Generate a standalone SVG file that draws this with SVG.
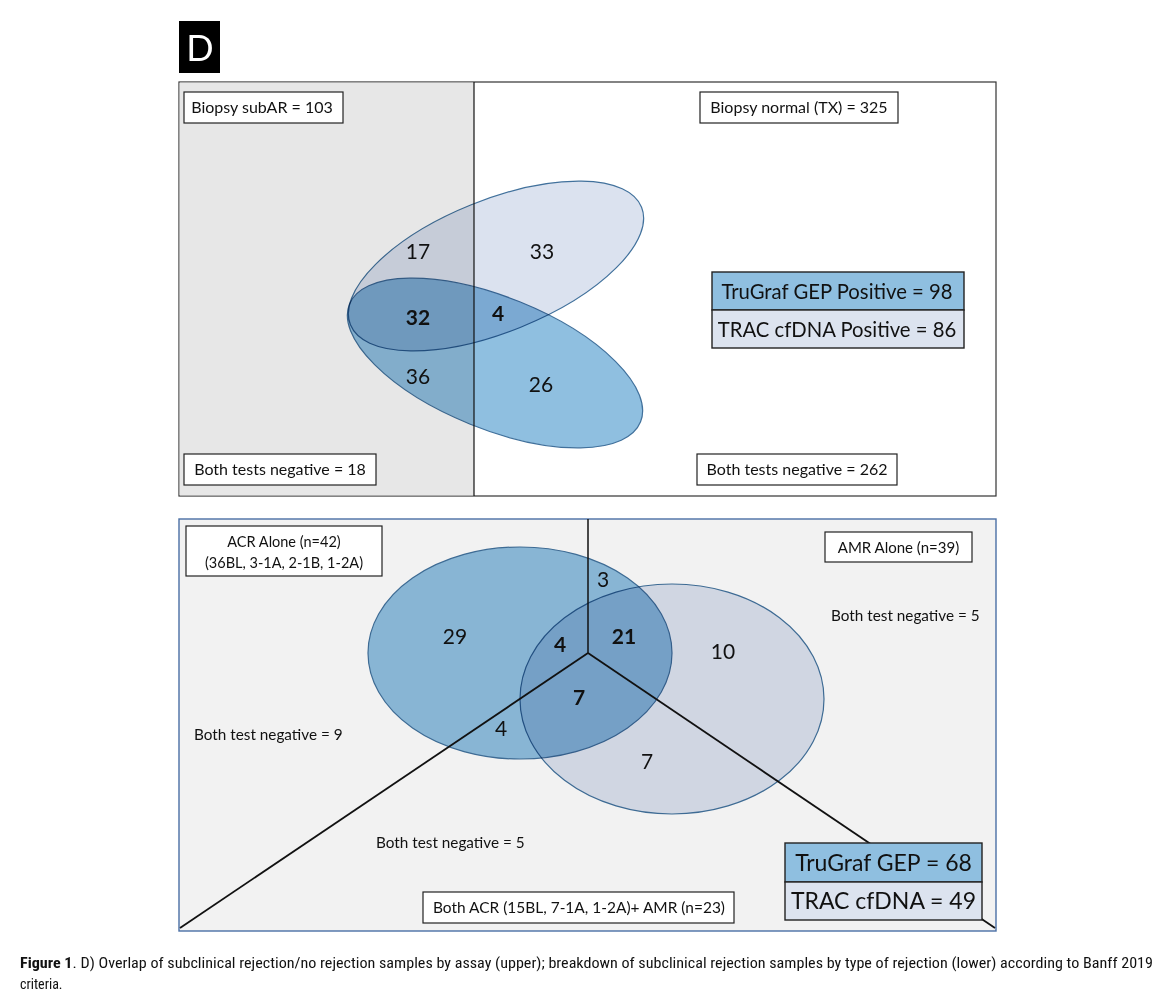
<svg xmlns="http://www.w3.org/2000/svg" width="1162" height="1003" viewBox="0 0 1162 1003">
<style>
.lbl{font-family:Lato,"Open Sans","Liberation Sans",sans-serif;fill:#111}
.box{fill:#fff;stroke:#222;stroke-width:1.2}
.num{font-family:Lato,"Open Sans","Liberation Sans",sans-serif;font-size:21px;fill:#111;text-anchor:middle}
.b{font-weight:bold}
.gep{fill:#8fbfe0;stroke:#41719c;stroke-width:1.2;mix-blend-mode:multiply}
.trac{fill:#dbe2ef;stroke:#41719c;stroke-width:1.2;mix-blend-mode:multiply}
.leg{stroke:#222;stroke-width:1.4}
.conn{stroke:#111;fill:none}
.cap{font-family:"Liberation Sans Narrow","Roboto Condensed","Liberation Sans",sans-serif;font-size:14px;fill:#111}
</style>
<rect x="0" y="0" width="1162" height="1003" fill="#fff"/>
<g id="panel-label">
<rect x="179" y="21" width="41" height="52" fill="#000"/>
<text x="200" y="61" font-family="Lato,'Open Sans',sans-serif" font-size="36" fill="#fff" text-anchor="middle">D</text>
</g>
<!-- Top panel -->
<g id="top-panel">
<rect x="179" y="82" width="817" height="414" fill="#fff" stroke="#333" stroke-width="1.2"/>
<rect x="179.6" y="82.6" width="294.4" height="412.8" fill="#e7e7e7"/>
</g>
<g id="top-venn">
<ellipse class="trac" cx="496" cy="266" rx="157" ry="66" transform="rotate(-22 496 266)"/>
<ellipse class="gep" cx="495" cy="363" rx="157" ry="66" transform="rotate(22 495 363)"/>
</g>
<g id="top-connectors">
<line class="conn" x1="474" y1="82" x2="474" y2="496" stroke-width="1.2"/>
</g>
<g id="top-numbers">
<text class="num" x="418" y="259">17</text>
<text class="num" x="542" y="259">33</text>
<text class="num b" x="418" y="325">32</text>
<text class="num b" x="498" y="321">4</text>
<text class="num" x="418" y="384">36</text>
<text class="num" x="541" y="392">26</text>
</g>
<g id="biopsy-subar">
<rect class="box" x="184" y="92" width="159" height="31"/>
<text class="lbl" x="262" y="113" font-size="16" text-anchor="middle">Biopsy subAR = 103</text>
</g>
<g id="biopsy-normal">
<rect class="box" x="700" y="92" width="198" height="31"/>
<text class="lbl" x="799" y="113" font-size="16" text-anchor="middle">Biopsy normal (TX) = 325</text>
</g>
<g id="neg-18">
<rect class="box" x="184" y="454" width="192" height="31"/>
<text class="lbl" x="280" y="475" font-size="16" text-anchor="middle">Both tests negative = 18</text>
</g>
<g id="neg-262">
<rect class="box" x="697" y="454" width="200" height="31"/>
<text class="lbl" x="797" y="475" font-size="16" text-anchor="middle">Both tests negative = 262</text>
</g>
<g id="top-legend">
<rect class="leg" x="712" y="272" width="252" height="38" fill="#8fbfe0"/>
<rect class="leg" x="712" y="310" width="252" height="38" fill="#dce3ef"/>
<text class="lbl" x="837" y="299" font-size="20.3" text-anchor="middle">TruGraf GEP Positive = 98</text>
<text class="lbl" x="837" y="337" font-size="20.3" text-anchor="middle">TRAC cfDNA Positive = 86</text>
</g>
<!-- Bottom panel -->
<g id="bottom-panel">
<rect x="179" y="519" width="817" height="412" fill="#f2f2f2" stroke="#4a6fa5" stroke-width="1.4"/>
</g>
<g id="bottom-venn">
<ellipse class="gep" cx="520" cy="653" rx="152" ry="106"/>
<ellipse class="trac" cx="672" cy="699" rx="152" ry="115"/>
</g>
<g id="bottom-connectors">
<line class="conn" x1="588" y1="519" x2="588" y2="653" stroke-width="1.5"/>
<line class="conn" x1="588" y1="653" x2="180" y2="928" stroke-width="1.8"/>
<line class="conn" x1="588" y1="653" x2="995" y2="928" stroke-width="1.8"/>
</g>
<g id="bottom-numbers">
<text class="num" x="603" y="587">3</text>
<text class="num" x="455" y="644">29</text>
<text class="num b" x="560" y="652">4</text>
<text class="num b" x="624" y="644">21</text>
<text class="num" x="723" y="659">10</text>
<text class="num b" x="579" y="705">7</text>
<text class="num" x="501" y="736">4</text>
<text class="num" x="647" y="769">7</text>
</g>
<g id="acr-alone">
<rect class="box" x="186" y="526" width="196" height="50"/>
<text class="lbl" x="284" y="547" font-size="14.5" text-anchor="middle">ACR Alone (n=42)</text>
<text class="lbl" x="284" y="568" font-size="14.5" text-anchor="middle">(36BL, 3-1A, 2-1B, 1-2A)</text>
</g>
<g id="amr-alone">
<rect class="box" x="825" y="532" width="147" height="30"/>
<text class="lbl" x="898.5" y="553" font-size="15" text-anchor="middle">AMR Alone (n=39)</text>
</g>
<g id="neg-5-right">
<text class="lbl" x="831" y="621" font-size="15.3">Both test negative = 5</text>
</g>
<g id="neg-9">
<text class="lbl" x="194" y="740" font-size="15.3">Both test negative = 9</text>
</g>
<g id="neg-5-bottom">
<text class="lbl" x="376" y="848" font-size="15.3">Both test negative = 5</text>
</g>
<g id="both-acr-amr">
<rect class="box" x="423" y="892" width="311" height="31"/>
<text class="lbl" x="433" y="913" font-size="15" textLength="292" lengthAdjust="spacingAndGlyphs">Both ACR (15BL, 7-1A, 1-2A)+ AMR (n=23)</text>
</g>
<g id="bottom-legend">
<rect class="leg" x="785" y="843" width="197" height="39" fill="#8fbfe0"/>
<rect class="leg" x="785" y="882" width="197" height="38" fill="#dce3ef"/>
<text class="lbl" x="883.5" y="871" font-size="23" text-anchor="middle">TruGraf GEP = 68</text>
<text class="lbl" x="883.5" y="909" font-size="23" text-anchor="middle">TRAC cfDNA = 49</text>
</g>
<g id="caption">
<text class="cap" x="20" y="968" textLength="1133" lengthAdjust="spacingAndGlyphs"><tspan font-weight="bold">Figure 1</tspan>. D) Overlap of subclinical rejection/no rejection samples by assay (upper); breakdown of subclinical rejection samples by type of rejection (lower) according to Banff 2019</text>
<text class="cap" x="20" y="989">criteria.</text>
</g>
</svg>
